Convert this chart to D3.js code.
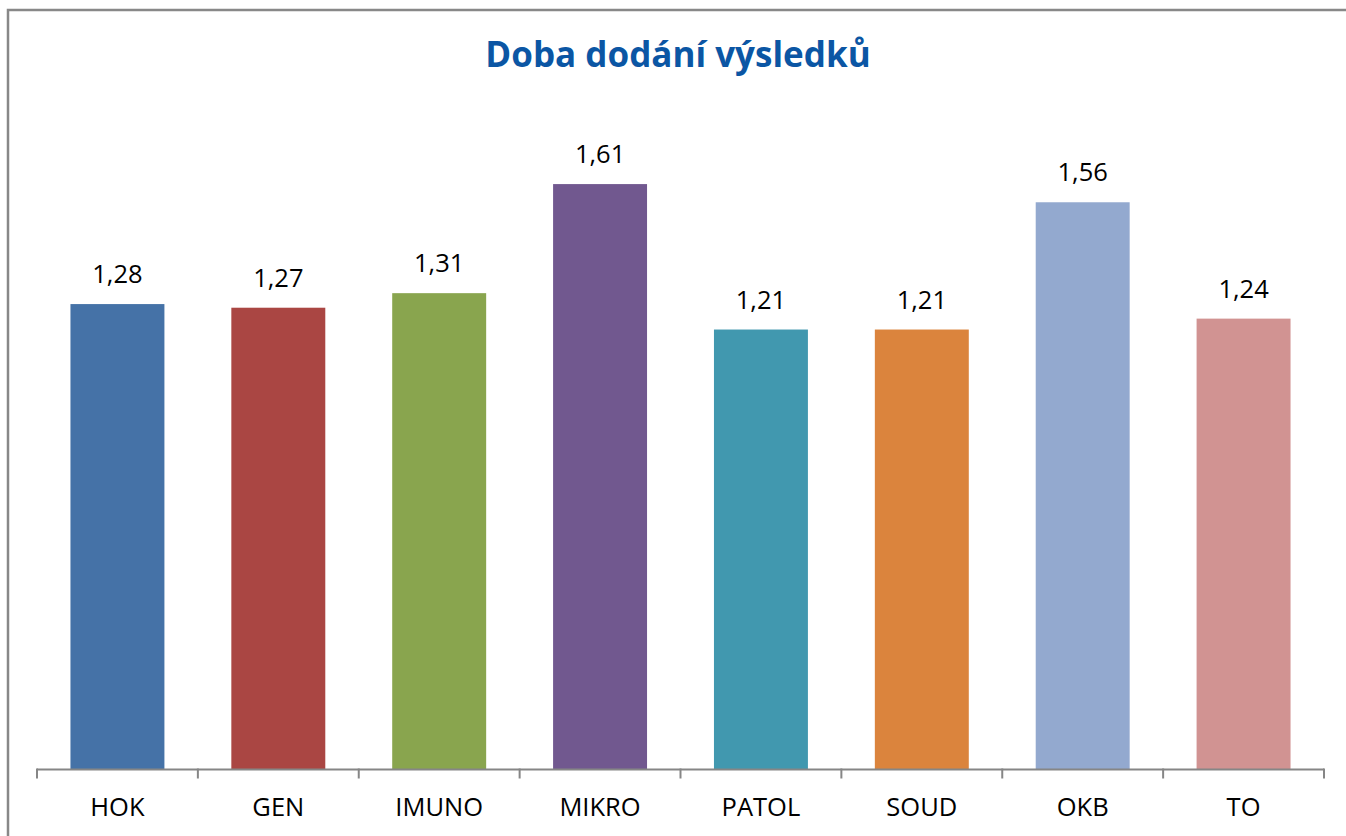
<!DOCTYPE html>
<html>
<head>
<meta charset="utf-8">
<script src="https://cdn.jsdelivr.net/npm/d3@7"></script>
<style>
  body { margin: 0; background: #fff; }
  svg { display: block; }
</style>
</head>
<body>
<svg id="chart"></svg>
<script>
// data
var categories = ["HOK", "GEN", "IMUNO", "MIKRO", "PATOL", "SOUD", "OKB", "TO"];
var values = [1.28, 1.27, 1.31, 1.61, 1.21, 1.21, 1.56, 1.24];
var colors = ["#4572a7", "#aa4643", "#89a54e", "#71588f", "#4198af", "#db843d", "#93a9cf", "#d19392"];
var title = "Doba dodání výsledků";

var svgWidth = 1346, svgHeight = 836;
var margin = { top: 115, right: 22, bottom: 66.5, left: 37 };
var width = svgWidth - margin.left - margin.right;
var height = svgHeight - margin.top - margin.bottom;
var font = "'Open Sans', sans-serif";

var svg = d3.select("#chart")
    .attr("width", svgWidth)
    .attr("height", svgHeight);

// outer chart border (right and bottom run off the page)
svg.append("rect")
    .attr("x", 8)
    .attr("y", 10)
    .attr("width", svgWidth + 20)
    .attr("height", svgHeight + 20)
    .attr("fill", "none")
    .attr("stroke", "#888")
    .attr("stroke-width", 2.5);

svg.append("text")
    .attr("x", 678)
    .attr("y", 67)
    .attr("text-anchor", "middle")
    .attr("font-family", font)
    .attr("font-weight", "bold")
    .attr("font-size", 35)
    .attr("fill", "#0b56a4")
    .text(title);

var g = svg.append("g")
    .attr("transform", "translate(" + margin.left + "," + margin.top + ")");

var x = d3.scaleBand()
    .domain(categories)
    .range([0, width])
    .paddingInner(0.416)
    .paddingOuter(0.208);

var y = d3.scaleLinear()
    .domain([0, 1.8])
    .range([height, 0]);

var data = categories.map(function(c, i) {
    return { name: c, value: values[i], color: colors[i] };
});

g.selectAll(".bar")
    .data(data)
    .enter().append("rect")
    .attr("class", "bar")
    .attr("x", function(d) { return x(d.name); })
    .attr("y", function(d) { return y(d.value); })
    .attr("width", x.bandwidth())
    .attr("height", function(d) { return height - y(d.value); })
    .attr("fill", function(d) { return d.color; });

// value labels, decimal comma
g.selectAll(".val")
    .data(data)
    .enter().append("text")
    .attr("class", "val")
    .attr("x", function(d) { return x(d.name) + x.bandwidth() / 2; })
    .attr("y", function(d) { return y(d.value) - 21; })
    .attr("text-anchor", "middle")
    .attr("font-family", font)
    .attr("font-size", 25.5)
    .attr("fill", "#000")
    .text(function(d) { return d.value.toFixed(2).replace(".", ","); });

// category axis: ticks on band edges
var axis = g.append("g")
    .attr("transform", "translate(0," + height + ")");

axis.append("line")
    .attr("x1", 0)
    .attr("x2", width)
    .attr("stroke", "#868686")
    .attr("stroke-width", 2);

var edges = categories.map(function(c) { return x(c) - x.step() * x.paddingInner() / 2; });
edges.push(width);

axis.selectAll(".tick")
    .data(edges)
    .enter().append("line")
    .attr("class", "tick")
    .attr("x1", function(d) { return d; })
    .attr("x2", function(d) { return d; })
    .attr("y1", -1)
    .attr("y2", 9)
    .attr("stroke", "#868686")
    .attr("stroke-width", 2);

axis.selectAll(".lab")
    .data(categories)
    .enter().append("text")
    .attr("class", "lab")
    .attr("x", function(d) { return x(d) + x.bandwidth() / 2; })
    .attr("y", 46.5)
    .attr("text-anchor", "middle")
    .attr("font-family", font)
    .attr("font-size", 25.5)
    .attr("fill", "#000")
    .text(function(d) { return d; });
</script>
</body>
</html>
